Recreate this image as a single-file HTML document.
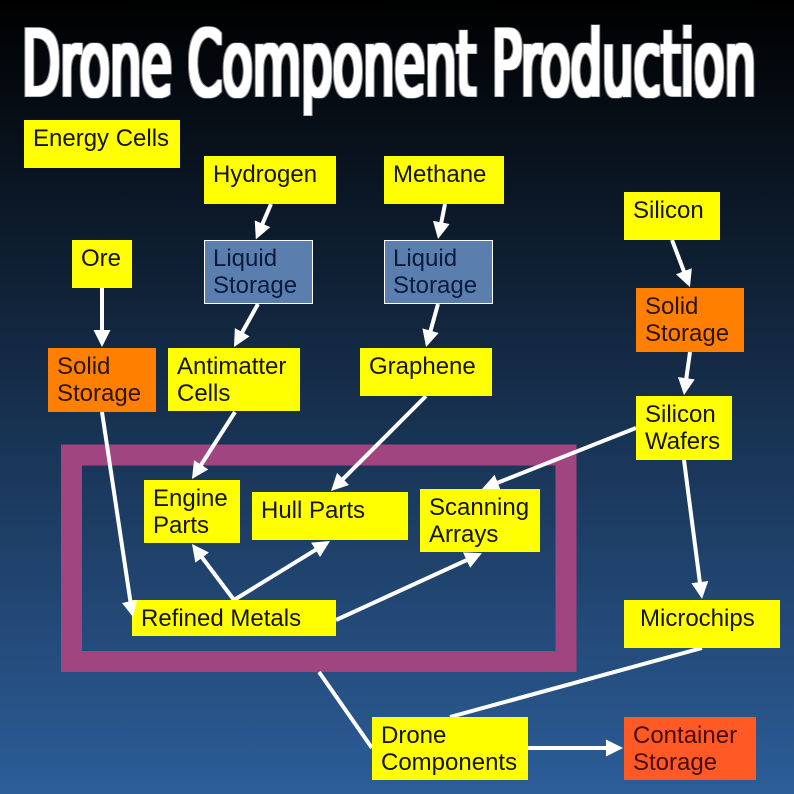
<!DOCTYPE html>
<html>
<head>
<meta charset="utf-8">
<style>
html,body{margin:0;padding:0;background:#000}
svg{display:block}
text{font-family:"Liberation Sans",sans-serif;font-size:24px;fill:#141400}
.t{font-family:"DejaVu Sans",sans-serif;font-size:90px;font-weight:400;fill:#fff;filter:url(#o)}
.b text{fill:#0b1a3d}
.r text{fill:#2b1400}
.c text{fill:#470c08}
.a{stroke:#fff;stroke-width:4;fill:none}
.h{marker-end:url(#m)}
</style>
</head>
<body>
<svg width="794" height="794" viewBox="0 0 794 794" xmlns="http://www.w3.org/2000/svg">
<defs>
<linearGradient id="g" x1="0" y1="0" x2="0" y2="1">
<stop offset="0" stop-color="#000"/>
<stop offset="1" stop-color="#2c5d98"/>
</linearGradient>
<marker id="m" markerUnits="userSpaceOnUse" markerWidth="24" markerHeight="24" refX="9" refY="12" orient="auto" viewBox="0 0 24 24">
<path d="M0,3.500 L17,12 L0,20.500 Z" fill="#fff"/>
</marker>
<filter id="o" x="-2%" y="-10%" width="104%" height="120%">
<feMorphology in="SourceAlpha" operator="dilate" radius="2.400 2.200" result="outer"/>
<feFlood flood-color="#858585"/>
<feComposite in2="outer" operator="in" result="edge"/>
<feMorphology in="SourceAlpha" operator="dilate" radius="1.600 1.400" result="inner"/>
<feFlood flood-color="#ffffff"/>
<feComposite in2="inner" operator="in" result="core"/>
<feMerge><feMergeNode in="edge"/><feMergeNode in="core"/></feMerge>
</filter>
</defs>
<rect width="794" height="794" fill="url(#g)"/>
<text class="t" x="22" y="95" textLength="734" lengthAdjust="spacingAndGlyphs">Drone Component Production</text>

<rect x="71.500" y="455" width="494.500" height="206.500" fill="none" stroke="#a0457f" stroke-width="21"/>

<g>
<line class="a h" x1="271" y1="204" x2="259" y2="232"/>
<line class="a h" x1="445" y1="204" x2="439.600" y2="231.200"/>
<line class="a h" x1="258" y1="304" x2="237.900" y2="340"/>
<line class="a h" x1="438" y1="304" x2="428.200" y2="339.300"/>
<line class="a h" x1="102" y1="288" x2="102" y2="339"/>
<line class="a h" x1="672" y1="240" x2="687.100" y2="279.600"/>
<line class="a h" x1="690" y1="352" x2="685.100" y2="387.100"/>
<line class="a h" x1="235" y1="412" x2="196.300" y2="472.300"/>
<line class="a h" x1="426" y1="396" x2="336.700" y2="485.300"/>
<line class="a h" x1="636" y1="428" x2="489.400" y2="486"/>
<line class="a" x1="102" y1="412" x2="130.500" y2="602"/>
<line class="a h" x1="234" y1="600" x2="196.800" y2="550.400"/>
<line class="a h" x1="234" y1="600" x2="323.200" y2="545.200"/>
<line class="a h" x1="336" y1="620" x2="474.700" y2="556.400"/>
<line class="a h" x1="684" y1="460" x2="701" y2="591"/>
<line class="a" x1="702" y1="648" x2="450" y2="717"/>
<line class="a" x1="319" y1="672" x2="372" y2="748"/>
<line class="a h" x1="528" y1="748" x2="615" y2="748"/>
</g>

<g fill="#ffff00">
<rect x="24" y="120" width="156" height="48"/>
<rect x="204" y="156" width="132" height="48"/>
<rect x="384" y="156" width="120" height="48"/>
<rect x="624" y="192" width="96" height="48"/>
<rect x="72" y="240" width="60" height="48"/>
<rect x="168" y="348" width="132" height="63"/>
<rect x="360" y="348" width="132" height="48"/>
<rect x="636" y="396" width="96" height="64"/>
<rect x="144" y="480" width="96" height="63"/>
<rect x="252" y="492" width="156" height="48"/>
<rect x="420" y="489" width="120" height="63"/>
<rect x="132" y="600" width="204" height="36"/>
<rect x="624" y="600" width="156" height="48"/>
<rect x="372" y="717" width="156" height="63"/>
</g>
<polygon points="122,603 137,600 133,617" fill="#fff"/>
<g fill="#ff8000">
<rect x="636" y="288" width="108" height="64"/>
<rect x="48" y="348" width="108" height="64"/>
</g>
<rect x="624" y="717" width="132" height="63" fill="#ff5a26"/>
<g fill="#5a7fae" stroke="#fff" stroke-width="1">
<rect x="204.500" y="240.500" width="108" height="63"/>
<rect x="384.500" y="240.500" width="108" height="63"/>
</g>

<text x="33" y="146">Energy Cells</text>
<text x="213" y="182">Hydrogen</text>
<text x="393" y="182">Methane</text>
<text x="633" y="218">Silicon</text>
<text x="81" y="266">Ore</text>
<g class="b">
<text x="213" y="266">Liquid</text>
<text x="213" y="293">Storage</text>
<text x="393" y="266">Liquid</text>
<text x="393" y="293">Storage</text>
</g>
<g class="r">
<text x="645" y="314">Solid</text>
<text x="645" y="341">Storage</text>
<text x="57" y="374">Solid</text>
<text x="57" y="401">Storage</text>
</g>
<text x="177" y="374">Antimatter</text>
<text x="177" y="401">Cells</text>
<text x="369" y="374">Graphene</text>
<text x="645" y="422">Silicon</text>
<text x="645" y="449">Wafers</text>
<text x="153" y="506">Engine</text>
<text x="153" y="533">Parts</text>
<text x="261" y="518">Hull Parts</text>
<text x="429" y="515">Scanning</text>
<text x="429" y="542">Arrays</text>
<text x="141" y="626">Refined Metals</text>
<text x="640" y="626">Microchips</text>
<text x="381" y="743">Drone</text>
<text x="381" y="770">Components</text>
<g class="c">
<text x="633" y="743">Container</text>
<text x="633" y="770">Storage</text>
</g>
</svg>
</body>
</html>
